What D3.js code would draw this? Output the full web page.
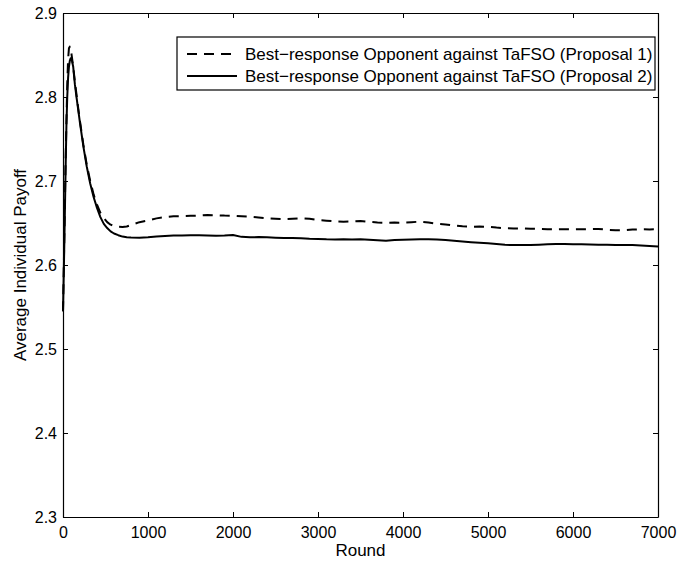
<!DOCTYPE html>
<html>
<head>
<meta charset="utf-8">
<script src="https://cdn.jsdelivr.net/npm/d3@7"></script>
<style>
  html, body { margin: 0; padding: 0; background: #fff; }
  svg { display: block; }
  text { font-family: "Liberation Sans", Arial, Helvetica, sans-serif; fill: #000; }
</style>
</head>
<body>
<svg id="chart" width="678" height="561"></svg>
<script>
// ---- data ----
const rounds = [0,10,20,30,40,50,60,70,80,90,100,120,140,160,180,200,240,280,320,360,400,440,480,520,560,600,650,700,750,800,900,
  1000,1100,1200,1300,1400,1500,1600,1700,1800,1900,2000,2100,2200,2300,2400,2500,2600,2700,2800,2900,
  3000,3100,3200,3300,3400,3500,3600,3700,3800,3900,4000,4100,4200,4300,4400,4500,4600,4700,4800,4900,
  5000,5100,5200,5300,5400,5500,5600,5700,5800,5900,6000,6100,6200,6300,6400,6500,6600,6700,6800,6900,7000];

const proposal1 = [2.545,2.600,2.660,2.720,2.770,2.815,2.845,2.858,2.860,2.857,2.851,2.836,2.818,2.802,2.786,2.771,2.743,2.719,2.700,2.684,2.672,2.662,2.656,2.651,2.648,2.6465,2.6455,2.6452,2.6458,2.6475,2.651,
  2.653,2.6555,2.657,2.658,2.6582,2.6585,2.6588,2.6595,2.6592,2.6588,2.6587,2.658,2.6575,2.6565,2.6556,2.655,2.6545,2.655,2.6556,2.655,
  2.6535,2.6528,2.652,2.6516,2.652,2.6524,2.6515,2.6506,2.6502,2.6505,2.6504,2.651,2.6516,2.6505,2.649,2.6482,2.647,2.646,2.6456,2.6458,
  2.6455,2.6445,2.6438,2.6436,2.6434,2.6432,2.643,2.6426,2.6425,2.6427,2.6425,2.6426,2.6428,2.6429,2.642,2.6414,2.6415,2.6422,2.6425,2.6424,2.6425];

const proposal2 = [2.545,2.595,2.650,2.710,2.765,2.800,2.823,2.836,2.843,2.846,2.846,2.836,2.815,2.799,2.784,2.769,2.741,2.717,2.697,2.681,2.668,2.657,2.649,2.644,2.640,2.6375,2.6355,2.6338,2.633,2.6327,2.6325,
  2.633,2.634,2.6345,2.635,2.6352,2.6353,2.6353,2.6352,2.6348,2.635,2.6357,2.6335,2.633,2.6332,2.633,2.6325,2.632,2.632,2.6318,2.6312,
  2.631,2.6306,2.6305,2.6308,2.6304,2.6306,2.6302,2.6295,2.629,2.6298,2.6302,2.6304,2.6306,2.6306,2.6303,2.6298,2.629,2.628,2.6272,2.6266,
  2.626,2.625,2.624,2.6238,2.6237,2.6238,2.6242,2.6246,2.625,2.6249,2.6247,2.6246,2.6244,2.6242,2.624,2.6238,2.6238,2.6237,2.6232,2.6226,2.622];

const seriesNames = ["Best\u2212response Opponent against TaFSO (Proposal 1)",
                     "Best\u2212response Opponent against TaFSO (Proposal 2)"];
const xTicks = [0,1000,2000,3000,4000,5000,6000,7000];
const yTicks = [2.3,2.4,2.5,2.6,2.7,2.8,2.9];
const xLabel = "Round";
const yLabel = "Average Individual Payoff";

// ---- layout ----
const L = 63, R = 658, T = 13, B = 517;
const FS = 16, LFS = 17;
const svg = d3.select("#chart");
const x = d3.scaleLinear().domain([0, 7000]).range([L, R]);
const y = d3.scaleLinear().domain([2.3, 2.9]).range([B, T]);

// lines
const seriesData = [proposal1, proposal2];
const styles = [{da: "10,7"}, {da: null}];
const line = d3.line().x(d => x(d[0])).y(d => y(d[1]));
seriesData.forEach((vals, i) => {
  const pts = rounds.map((r, j) => [r, vals[j]]);
  const p = svg.append("path").datum(pts)
    .attr("d", line).attr("fill", "none").attr("stroke", "#000")
    .attr("stroke-width", 2).attr("stroke-linejoin", "round");
  if (styles[i].da) p.attr("stroke-dasharray", styles[i].da);
});

// axes
const fmtX = d3.format("d");
const fmtY = d3.format(".1f");
const gB = svg.append("g").attr("transform", `translate(0,${B})`)
  .call(d3.axisBottom(x).tickValues(xTicks).tickFormat(fmtX).tickSizeInner(-5).tickSizeOuter(0).tickPadding(10));
const gT = svg.append("g").attr("transform", `translate(0,${T})`)
  .call(d3.axisTop(x).tickValues(xTicks).tickFormat("").tickSizeInner(-5).tickSizeOuter(0));
const gL = svg.append("g").attr("transform", `translate(${L},0)`)
  .call(d3.axisLeft(y).tickValues(yTicks).tickFormat(fmtY).tickSizeInner(-5).tickSizeOuter(0).tickPadding(6));
const gR = svg.append("g").attr("transform", `translate(${R},0)`)
  .call(d3.axisRight(y).tickValues(yTicks).tickFormat("").tickSizeInner(-5).tickSizeOuter(0));
[gB, gT, gL, gR].forEach(g => {
  g.selectAll(".domain").attr("stroke", "#000").attr("stroke-width", 1.2);
  g.selectAll(".tick line").attr("stroke", "#000").attr("stroke-width", 1);
  g.selectAll("text").attr("font-size", FS).attr("font-family", "Liberation Sans, Arial, sans-serif").attr("fill", "#000");
});

// axis labels
svg.append("text").attr("x", (L + R) / 2).attr("y", 556).attr("text-anchor", "middle")
  .attr("font-size", LFS).text(xLabel);
svg.append("text").attr("transform", `translate(26,${(T + B) / 2}) rotate(-90)`)
  .attr("text-anchor", "middle").attr("font-size", LFS).text(yLabel);

// legend
const lg = svg.append("g");
lg.append("rect").attr("x", 177).attr("y", 37).attr("width", 478).attr("height", 53)
  .attr("fill", "#fff").attr("stroke", "#000").attr("stroke-width", 1.2);
seriesNames.forEach((name, i) => {
  const ly = 54 + i * 22;
  const l = lg.append("line").attr("x1", 187).attr("x2", 237).attr("y1", ly).attr("y2", ly)
    .attr("stroke", "#000").attr("stroke-width", 2);
  if (styles[i].da) l.attr("stroke-dasharray", styles[i].da);
  lg.append("text").attr("x", 245).attr("y", ly + 6).attr("font-size", LFS).text(name);
});
</script>
</body>
</html>
